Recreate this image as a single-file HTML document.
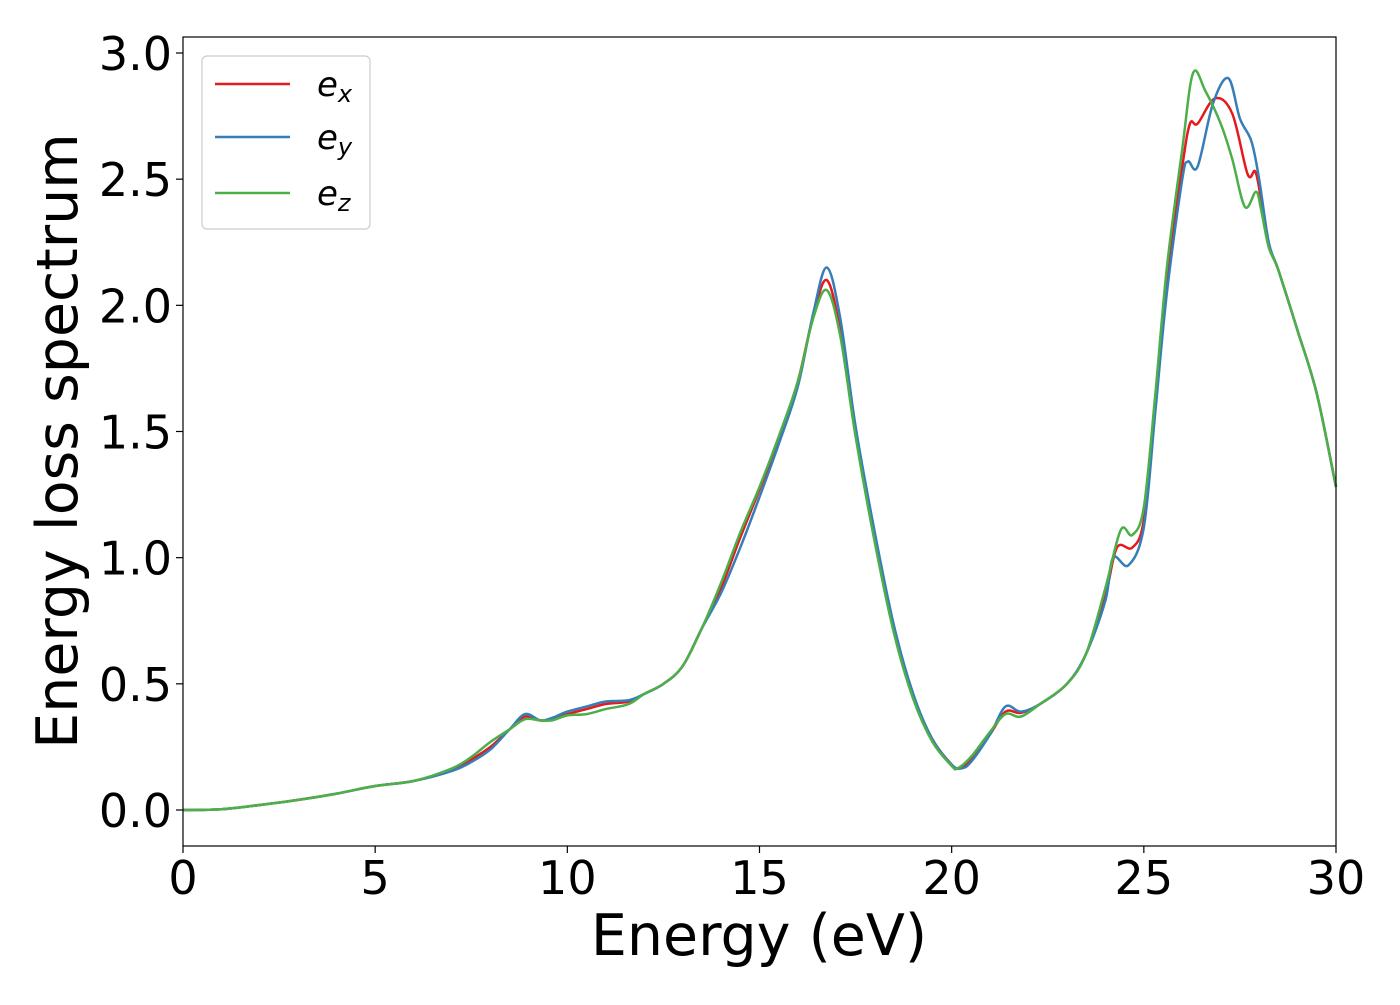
<!DOCTYPE html>
<html><head><meta charset="utf-8"><style>
body{margin:0;background:#fff;}
svg{font-family:"DejaVu Sans","Liberation Sans",sans-serif;}
</style></head><body>
<svg id="chart" width="1400" height="1000" viewBox="0 0 1400 1000" xmlns="http://www.w3.org/2000/svg">
<rect width="1400" height="1000" fill="#fff"/>
<g id="ticks"></g>
<g id="series"></g>
<rect x="183" y="37" width="1153" height="809" fill="none" stroke="#000" stroke-width="1.2"/>
<text x="759" y="955" font-size="57" text-anchor="middle">Energy (eV)</text>
<text transform="translate(77,441) rotate(-90)" font-size="57" text-anchor="middle">Energy loss spectrum</text>
<g>
<rect x="202" y="56" width="168" height="173" rx="5" fill="#fff" stroke="#ccc" stroke-width="1.2"/>
<line x1="215" y1="84" x2="290" y2="84" stroke="#e41a1c" stroke-width="2.5"/>
<text x="317" y="96" font-size="34" font-style="italic">e<tspan font-size="24" dy="6">x</tspan></text>
<line x1="215" y1="137" x2="290" y2="137" stroke="#377eb8" stroke-width="2.5"/>
<text x="317" y="149" font-size="34" font-style="italic">e<tspan font-size="24" dy="6">y</tspan></text>
<line x1="215" y1="193" x2="290" y2="193" stroke="#4daf4a" stroke-width="2.5"/>
<text x="317" y="205" font-size="34" font-style="italic">e<tspan font-size="24" dy="6">z</tspan></text>
</g>
</svg>
<script>
const xTicks=[0,5,10,15,20,25,30];
const yTicks=[0.0,0.5,1.0,1.5,2.0,2.5,3.0];
const exE=[0,1,2,3,4,5,6,7,7.5,8,8.5,8.9,9.3,9.6,10,10.5,11,11.6,12,12.5,13,13.5,14,14.5,15,15.5,16,16.4,16.75,17.1,17.5,18,18.5,19,19.5,20,20.2,20.5,21,21.4,21.8,22.3,23,23.5,24,24.3,24.7,25,25.3,25.6,26,26.2,26.4,26.85,27.3,27.7,27.9,28.05,28.25,28.5,29,29.5,30];
const exV=[0,0.003,0.02,0.04,0.065,0.095,0.115,0.16,0.2,0.25,0.32,0.37,0.355,0.36,0.38,0.40,0.42,0.43,0.46,0.5,0.57,0.72,0.88,1.08,1.27,1.47,1.7,1.96,2.1,1.9,1.5,1.08,0.72,0.45,0.28,0.18,0.165,0.2,0.3,0.39,0.385,0.42,0.5,0.62,0.85,1.04,1.04,1.15,1.6,2.1,2.55,2.72,2.72,2.82,2.76,2.52,2.53,2.42,2.24,2.14,1.9,1.65,1.28];
const eyE=[0,1,2,3,4,5,6,7,7.5,8,8.5,8.9,9.3,9.6,10,10.5,11,11.6,12,12.5,13,13.5,14,14.5,15,15.5,16,16.4,16.75,17.1,17.5,18,18.5,19,19.5,20,20.25,20.5,21,21.4,21.8,22.3,23,23.5,24,24.2,24.6,25,25.3,25.6,26,26.15,26.4,26.8,27.2,27.5,27.8,28.0,28.25,28.5,29,29.5,30];
const eyV=[0,0.003,0.02,0.04,0.065,0.095,0.115,0.155,0.19,0.24,0.32,0.38,0.355,0.365,0.39,0.41,0.43,0.435,0.46,0.5,0.57,0.72,0.86,1.04,1.24,1.45,1.68,1.97,2.15,1.95,1.52,1.1,0.73,0.46,0.28,0.18,0.165,0.19,0.3,0.41,0.39,0.42,0.5,0.62,0.83,1.0,0.97,1.12,1.58,2.05,2.5,2.57,2.55,2.8,2.9,2.74,2.65,2.5,2.25,2.14,1.9,1.65,1.28];
const ezE=[0,1,2,3,4,5,6,7,7.5,8,8.5,8.9,9.3,9.6,10,10.5,11,11.6,12,12.5,13,13.5,14,14.5,15,15.5,16,16.4,16.75,17.1,17.5,18,18.5,19,19.5,20,20.15,20.5,21,21.4,21.8,22.3,23,23.5,24,24.4,24.7,25,25.3,25.6,26,26.28,26.6,27,27.3,27.63,27.92,28.05,28.25,28.5,29,29.5,30];
const ezV=[0,0.003,0.02,0.04,0.065,0.095,0.115,0.165,0.21,0.27,0.32,0.36,0.355,0.355,0.375,0.38,0.40,0.42,0.46,0.5,0.57,0.72,0.9,1.1,1.28,1.48,1.7,1.95,2.06,1.88,1.48,1.06,0.7,0.44,0.27,0.175,0.165,0.21,0.31,0.38,0.37,0.42,0.5,0.62,0.88,1.11,1.09,1.2,1.65,2.15,2.62,2.92,2.85,2.72,2.58,2.39,2.45,2.38,2.23,2.14,1.9,1.65,1.28];
const X0=183,X1=1336,Y0=810,Y3=53;
function sx(e){return X0+(e-0)/(30-0)*(X1-X0);}
function sy(v){return Y0-(v-0)/(3-0)*(Y0-Y3);}
const NS="http://www.w3.org/2000/svg";
const tg=document.getElementById('ticks');
xTicks.forEach(t=>{
  const l=document.createElementNS(NS,'line');
  
  
  l.setAttribute('x1',sx(t));l.setAttribute('x2',sx(t));l.setAttribute('y1',846);l.setAttribute('y2',853);l.setAttribute('stroke','#000');l.setAttribute('stroke-width','1.2');
  tg.appendChild(l);
  const tx=document.createElementNS(NS,'text');
  
  
  tx.setAttribute('x',sx(t));tx.setAttribute('y',894);tx.setAttribute('font-size','46');tx.setAttribute('text-anchor','middle');
  tx.textContent=t;tg.appendChild(tx);
});
yTicks.forEach(t=>{
  const l=document.createElementNS(NS,'line');
  
  
  l.setAttribute('x1',176);l.setAttribute('x2',183);l.setAttribute('y1',sy(t));l.setAttribute('y2',sy(t));l.setAttribute('stroke','#000');l.setAttribute('stroke-width','1.2');
  tg.appendChild(l);
  const tx=document.createElementNS(NS,'text');
  
  
  tx.setAttribute('x',172);tx.setAttribute('y',sy(t)+17);tx.setAttribute('font-size','46');tx.setAttribute('text-anchor','end');
  tx.textContent=t.toFixed(1);tg.appendChild(tx);
});
function pathFor(E,V){
  const p=E.map((e,i)=>[sx(e),sy(V[i])]);
  let d='M'+p[0][0]+','+p[0][1];
  for(let i=0;i<p.length-1;i++){
    const a=p[Math.max(0,i-1)],b=p[i],c=p[i+1],n=p[Math.min(p.length-1,i+2)];
    const c1=[b[0]+(c[0]-a[0])/6,b[1]+(c[1]-a[1])/6];
    const c2=[c[0]-(n[0]-b[0])/6,c[1]-(n[1]-b[1])/6];
    d+=' C'+c1[0]+','+c1[1]+' '+c2[0]+','+c2[1]+' '+c[0]+','+c[1];
  }
  return d;
}
const sg=document.getElementById('series');
[[exE,exV,'#e41a1c','series-ex'],[eyE,eyV,'#377eb8','series-ey'],[ezE,ezV,'#4daf4a','series-ez']].forEach(s=>{
  const pa=document.createElementNS(NS,'path');
  
  
  pa.setAttribute('d',pathFor(s[0],s[1]));
  pa.setAttribute('fill','none');pa.setAttribute('stroke',s[2]);pa.setAttribute('stroke-width','2.5');
  sg.appendChild(pa);
});
</script>
</body></html>
